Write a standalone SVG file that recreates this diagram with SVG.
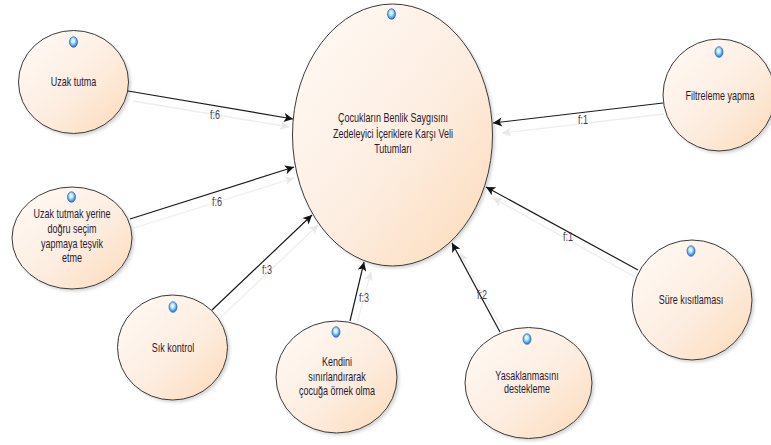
<svg xmlns="http://www.w3.org/2000/svg" width="771" height="445" viewBox="0 0 771 445">
  <defs>
    <linearGradient id="nodeFill" x1="0" y1="0" x2="1" y2="1">
      <stop offset="0" stop-color="#fffbf7"/>
      <stop offset="0.55" stop-color="#fdede0"/>
      <stop offset="1" stop-color="#fcdab8"/>
    </linearGradient>
    <radialGradient id="dotFill" cx="0.45" cy="0.4" r="0.65">
      <stop offset="0" stop-color="#ffffff"/>
      <stop offset="0.3" stop-color="#c8ecff"/>
      <stop offset="0.65" stop-color="#55a8f5"/>
      <stop offset="1" stop-color="#1a5fd6"/>
    </radialGradient>
    <filter id="shadow" x="-10%" y="-10%" width="125%" height="125%">
      <feDropShadow dx="2" dy="2" stdDeviation="1.5" flood-color="#000" flood-opacity="0.16"/>
    </filter>
    <marker id="arrow" viewBox="0 0 10 10" refX="10" refY="5" markerWidth="10" markerHeight="9" markerUnits="userSpaceOnUse" orient="auto">
      <path d="M0,0 L10,5 L0,10 L2.5,5 Z" fill="#111"/>
    </marker>
    <marker id="arrowFaint" viewBox="0 0 10 10" refX="10" refY="5" markerWidth="10" markerHeight="9" markerUnits="userSpaceOnUse" orient="auto">
      <path d="M0,0 L10,5 L0,10 L2.5,5 Z" fill="#e8e8e8"/>
    </marker>
    <style>
      .node ellipse.body { fill: url(#nodeFill); stroke: #3a3a3a; stroke-width: 1; filter: url(#shadow); }
      .dot { fill: url(#dotFill); stroke: #2a62c0; stroke-width: 0.7; }
      .node text { font-family: "Liberation Sans", Arial, sans-serif; font-size: 12px; fill: #2a1830; text-anchor: middle; }
      .conn { stroke: #1a1a1a; stroke-width: 1.2; fill: none; marker-end: url(#arrow); }
      .ghost { stroke: #eeeeee; stroke-width: 1.3; fill: none; marker-end: url(#arrowFaint); }
      .lbl { font-family: "Liberation Sans", Arial, sans-serif; font-size: 12px; fill: #3a3f52; text-anchor: middle; }
    </style>
  </defs>

  <rect width="771" height="445" fill="#ffffff"/>

  <g id="connectors">
    <line class="ghost" x1="133" y1="101" x2="289" y2="127"/>
    <line class="conn" x1="128" y1="91" x2="293" y2="119"/>
    <text class="lbl" transform="translate(215,119) scale(0.75,1)">f:6</text>

    <line class="ghost" x1="134" y1="228" x2="294" y2="178"/>
    <line class="conn" x1="130" y1="219" x2="294" y2="167"/>
    <text class="lbl" transform="translate(217,206) scale(0.75,1)">f:6</text>

    <line class="ghost" x1="220" y1="318" x2="318" y2="225"/>
    <line class="conn" x1="212" y1="310" x2="312" y2="215"/>
    <text class="lbl" transform="translate(267,274) scale(0.75,1)">f:3</text>

    <line class="ghost" x1="357" y1="323" x2="371" y2="272"/>
    <line class="conn" x1="350" y1="321" x2="364" y2="262"/>
    <text class="lbl" transform="translate(364,302) scale(0.75,1)">f:3</text>

    <line class="ghost" x1="505" y1="334" x2="460" y2="253"/>
    <line class="conn" x1="500" y1="332" x2="452" y2="243"/>
    <text class="lbl" transform="translate(482,299) scale(0.75,1)">f:2</text>

    <line class="ghost" x1="635" y1="277" x2="493" y2="198"/>
    <line class="conn" x1="638" y1="270" x2="486" y2="187"/>
    <text class="lbl" transform="translate(568,241) scale(0.75,1)">f:1</text>

    <line class="ghost" x1="664" y1="114" x2="502" y2="133"/>
    <line class="conn" x1="663" y1="103" x2="493" y2="123"/>
    <text class="lbl" transform="translate(583,124) scale(0.75,1)">f:1</text>
  </g>

  <g id="central" class="node">
    <ellipse class="body" cx="392.5" cy="135" rx="100" ry="131"/>
    <ellipse class="dot" cx="391.5" cy="14" rx="4" ry="5.3"/>
    <text transform="translate(393,122) scale(0.75,1)">Çocukların Benlik Saygısını</text>
    <text transform="translate(393,137.5) scale(0.75,1)">Zedeleyici İçeriklere Karşı Veli</text>
    <text transform="translate(393,153) scale(0.75,1)">Tutumları</text>
  </g>

  <g id="uzak-tutma" class="node">
    <ellipse class="body" cx="73.5" cy="82" rx="55" ry="51.5"/>
    <ellipse class="dot" cx="73.5" cy="42" rx="4" ry="5.3"/>
    <text transform="translate(73.5,86) scale(0.75,1)">Uzak tutma</text>
  </g>

  <g id="uzak-tutmak-yerine" class="node">
    <ellipse class="body" cx="72" cy="238" rx="60" ry="51"/>
    <ellipse class="dot" cx="71.5" cy="197" rx="4" ry="5.3"/>
    <text transform="translate(72,218) scale(0.75,1)">Uzak tutmak yerine</text>
    <text transform="translate(72,233) scale(0.75,1)">doğru seçim</text>
    <text transform="translate(72,248) scale(0.75,1)">yapmaya teşvik</text>
    <text transform="translate(72,262) scale(0.75,1)">etme</text>
  </g>

  <g id="sik-kontrol" class="node">
    <ellipse class="body" cx="172.5" cy="347.5" rx="55" ry="52.5"/>
    <ellipse class="dot" cx="173" cy="307" rx="4" ry="5.3"/>
    <text transform="translate(173,352) scale(0.75,1)">Sık kontrol</text>
  </g>

  <g id="kendini" class="node">
    <ellipse class="body" cx="336.5" cy="377" rx="60.5" ry="56"/>
    <ellipse class="dot" cx="336" cy="332" rx="4" ry="5.3"/>
    <text transform="translate(337,366) scale(0.75,1)">Kendini</text>
    <text transform="translate(337,381) scale(0.75,1)">sınırlandırarak</text>
    <text transform="translate(337,395) scale(0.75,1)">çocuğa örnek olma</text>
  </g>

  <g id="yasaklanmasini" class="node">
    <ellipse class="body" cx="528.5" cy="383" rx="63.5" ry="55.5"/>
    <ellipse class="dot" cx="527" cy="339" rx="4" ry="5.3"/>
    <text transform="translate(527,380) scale(0.75,1)">Yasaklanmasını</text>
    <text transform="translate(527,393) scale(0.75,1)">destekleme</text>
  </g>

  <g id="sure" class="node">
    <ellipse class="body" cx="692" cy="300" rx="60" ry="60"/>
    <ellipse class="dot" cx="691" cy="251" rx="4" ry="5.3"/>
    <text transform="translate(691,304) scale(0.75,1)">Süre kısıtlaması</text>
  </g>

  <g id="filtreleme" class="node">
    <ellipse class="body" cx="719" cy="95" rx="56" ry="56"/>
    <ellipse class="dot" cx="719" cy="52" rx="4" ry="5.3"/>
    <text transform="translate(720,100) scale(0.75,1)">Filtreleme yapma</text>
  </g>
</svg>
